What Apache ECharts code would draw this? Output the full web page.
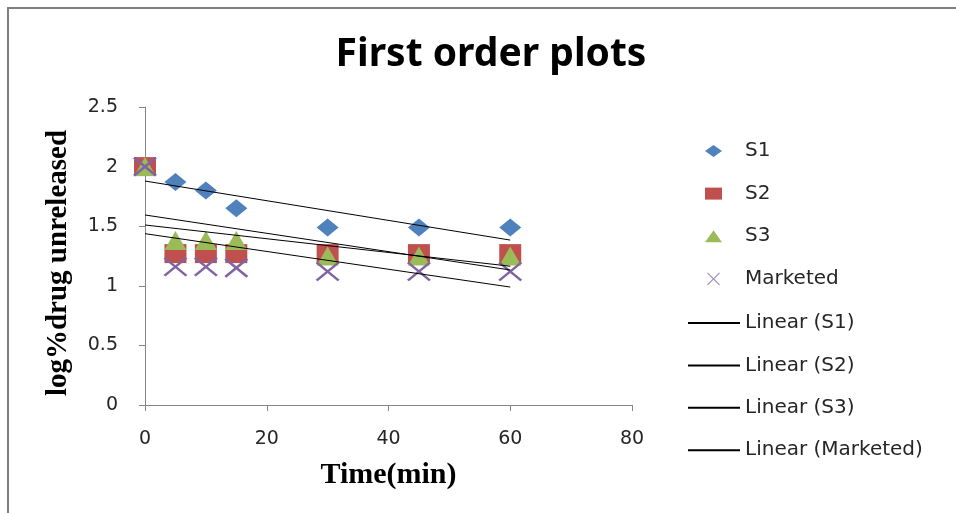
<!DOCTYPE html>
<html>
<head>
<meta charset="utf-8">
<script src="https://cdn.jsdelivr.net/npm/echarts@6/dist/echarts.min.js"></script>
<style>
  html, body { margin: 0; padding: 0; background: #ffffff; }
  #chart { width: 956px; height: 513px; }
</style>
</head>
<body>
<div id="chart"></div>
<script>
// time points (min)
const times = [0, 5, 10, 15, 30, 45, 60]
// log % drug unreleased
const s1 = [2, 1.87, 1.80, 1.65, 1.49, 1.49, 1.49]
const s2 = [2, 1.27, 1.27, 1.27, 1.27, 1.27, 1.27]
const s3 = [2, 1.38, 1.38, 1.38, 1.25, 1.25, 1.25]
const marketed = [2, 1.16, 1.16, 1.15, 1.12, 1.12, 1.12]
const seriesNames = ['S1', 'S2', 'S3', 'Marketed']
const lineNames = seriesNames.map(n => 'Linear (' + n + ')')

// least squares trend line, drawn from first to last time point
const trend = (xs, ys) => {
  const n = xs.length
  const mx = xs.reduce((a, b) => a + b, 0) / n
  const my = ys.reduce((a, b) => a + b, 0) / n
  let sxy = 0
  let sxx = 0
  for (let i = 0; i < n; i++) {
    sxy += (xs[i] - mx) * (ys[i] - my)
    sxx += (xs[i] - mx) * (xs[i] - mx)
  }
  const k = sxy / sxx
  const b = my - k * mx
  const x0 = xs[0]
  const x1 = xs[n - 1]
  return [[x0, b + k * x0], [x1, b + k * x1]]
}

const pairs = ys => times.map((t, i) => [t, ys[i]])

const myChart = echarts.init(document.getElementById('chart'))

const labelFont = { fontFamily: 'DejaVu Sans', fontSize: 19, color: '#262626' }
const titleFont = { fontFamily: 'Liberation Serif', fontWeight: 'bold', fontSize: 30, color: '#000000' }
const legendFont = { fontFamily: 'DejaVu Sans', fontSize: 20, color: '#262626', lineHeight: 20 }

const options = {
  animation: false,
  title: {
    text: 'First order plots',
    left: 486,
    top: 30,
    textAlign: 'center',
    textStyle: {
      fontFamily: 'Noto Sans',
      fontWeight: 'bold',
      fontSize: 39,
      color: '#000000'
    }
  },
  // outer frame (top and left edges visible)
  graphic: [{
    type: 'polyline',
    shape: { points: [[8, 520], [8, 8], [960, 8]] },
    style: { stroke: '#7f7f7f', lineWidth: 2, fill: null }
  }],
  grid: {
    left: 145,
    right: 324,
    top: 107,
    bottom: 108
  },
  legend: [
    // markers
    {
      orient: 'vertical',
      left: 700,
      top: 136,
      itemWidth: 17,
      itemHeight: 12,
      itemGap: 22.6,
      textStyle: Object.assign({ padding: [0, 0, 0, 18] }, legendFont),
      data: [
        { name: 'S1' },
        { name: 'S2', itemStyle: { borderWidth: 0 } },
        { name: 'S3' },
        { name: 'Marketed', itemStyle: { borderWidth: 1.2, borderColor: '#a08cc0' } }
      ]
    },
    // trend lines
    {
      orient: 'vertical',
      left: 682,
      top: 308,
      itemWidth: 52,
      itemHeight: 14,
      itemGap: 22.4,
      textStyle: legendFont,
      data: lineNames.map(n => ({ name: n, itemStyle: { color: 'rgba(0,0,0,0)', borderWidth: 0 } }))
    }
  ],
  xAxis: {
    type: 'value',
    min: 0,
    max: 80,
    interval: 20,
    name: 'Time(min)',
    nameLocation: 'middle',
    nameGap: 55,
    nameTextStyle: titleFont,
    axisLine: { lineStyle: { color: '#868686', width: 1 } },
    axisTick: { show: true, length: 6, lineStyle: { color: '#868686' } },
    axisLabel: Object.assign({ margin: 25 }, labelFont),
    splitLine: { show: false }
  },
  yAxis: {
    type: 'value',
    min: 0,
    max: 2.5,
    interval: 0.5,
    name: 'log%drug unreleased',
    nameLocation: 'middle',
    nameGap: 72,
    nameTextStyle: Object.assign({}, titleFont, { fontSize: 29, padding: [0, 14, 0, 0] }),
    axisLine: { show: true, lineStyle: { color: '#868686', width: 1 } },
    axisTick: { show: true, length: 6, lineStyle: { color: '#868686' } },
    axisLabel: Object.assign({ margin: 27 }, labelFont),
    splitLine: { show: false }
  },
  series: [
    {
      name: seriesNames[0],
      type: 'scatter',
      symbol: 'diamond',
      symbolSize: [22, 18],
      z: 3,
      itemStyle: { color: '#4F81BD', opacity: 1 },
      data: pairs(s1)
    },
    {
      name: seriesNames[1],
      type: 'scatter',
      symbol: 'rect',
      symbolSize: [22, 19],
      z: 3,
      itemStyle: { color: '#C0504D', opacity: 1 },
      data: pairs(s2)
    },
    {
      name: seriesNames[2],
      type: 'scatter',
      symbol: 'triangle',
      symbolSize: [22, 19],
      z: 3,
      itemStyle: { color: '#9BBB59', opacity: 1 },
      data: pairs(s3)
    },
    {
      name: seriesNames[3],
      type: 'scatter',
      symbol: 'path://M0,0L10,10M10,0L0,10',
      symbolSize: [22, 18],
      z: 3,
      itemStyle: { color: 'none', borderColor: '#8064A2', borderWidth: 2.5, opacity: 1 },
      data: pairs(marketed)
    },
    // trend lines
    ...[s1, s2, s3, marketed].map((ys, i) => ({
      name: lineNames[i],
      type: 'line',
      symbol: 'none',
      z: 4,
      lineStyle: { color: '#000000', width: 1 },
      itemStyle: { color: '#000000' },
      data: trend(times, ys)
    }))
  ]
}
myChart.setOption(options)
</script>
</body>
</html>
